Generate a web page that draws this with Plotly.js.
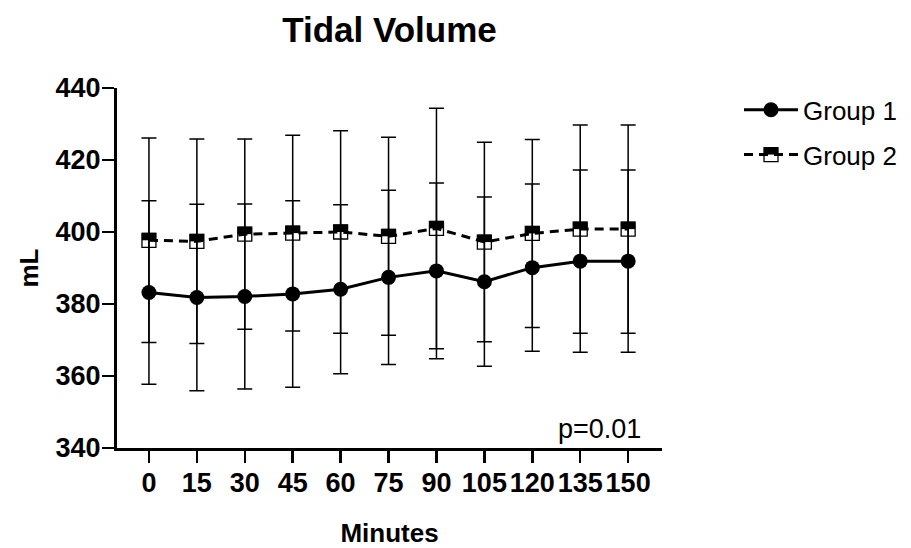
<!DOCTYPE html>
<html>
<head>
<meta charset="utf-8">
<script src="https://cdn.plot.ly/plotly-3.0.1.min.js"></script>
<style>html,body{margin:0;padding:0;background:#fff;}#chart{width:911px;height:548px;}</style>
</head>
<body>
<div id="chart"></div>
<script>
var minutes = [0, 15, 30, 45, 60, 75, 90, 105, 120, 135, 150];
var group1Mean = [383.2, 381.8, 382.1, 382.8, 384.1, 387.4, 389.2, 386.2, 390.1, 391.9, 391.9];
var group1SD   = [25.5, 25.9, 25.7, 25.9, 23.5, 24.2, 24.4, 23.5, 23.2, 25.3, 25.3];
var group2Mean = [397.7, 397.4, 399.4, 399.7, 400.0, 398.8, 401.0, 397.2, 399.6, 400.8, 400.8];
var group2SD   = [28.4, 28.4, 26.4, 27.2, 28.1, 27.5, 33.4, 27.7, 26.1, 28.9, 28.9];
var seriesNames = ['Group 1', 'Group 2'];
var pText = 'p=0.01';

var FONT = 'Arial, "Liberation Sans", sans-serif';

var trace1 = {
  x: minutes, y: group1Mean, name: seriesNames[0], type: 'scatter', mode: 'lines+markers',
  legendgroup: 'g1',
  line: {color: '#000', width: 3},
  marker: {symbol: 'circle', size: 15, color: '#000'},
  error_y: {type: 'data', array: group1SD, visible: true, color: '#000', thickness: 1.5, width: 7.5}
};
var trace2 = {
  x: minutes, y: group2Mean, name: seriesNames[1], type: 'scatter', mode: 'lines+markers',
  legendgroup: 'g2',
  line: {color: '#000', width: 3, dash: '9px,6px'},
  marker: {symbol: 'square-open', size: 14, color: '#000', line: {width: 1.3, color: '#000'}},
  error_y: {type: 'data', array: group2SD, visible: true, color: '#000', thickness: 1.5, width: 7.5}
};

// half-filled square tops for group 2 markers
var shapes = minutes.map(function (m, i) {
  return {
    type: 'rect', xref: 'x', yref: 'y', xsizemode: 'pixel', ysizemode: 'pixel',
    xanchor: m, yanchor: group2Mean[i], x0: -7, x1: 7, y0: 0, y1: 7.5,
    fillcolor: '#000', line: {width: 0}, layer: 'above'
  };
});

var layout = {
  width: 911, height: 548,
  margin: {l: 117, r: 249, t: 88, b: 100, autoexpand: false},
  paper_bgcolor: '#fff', plot_bgcolor: '#fff',
  font: {family: FONT, color: '#000'},
  title: {text: 'Tidal Volume', x: 0.5, xref: 'paper', y: 0.945, yref: 'container', yanchor: 'middle',
          font: {family: FONT, size: 35, weight: 'bold', color: '#000'}},
  xaxis: {
    range: [-10, 160.6], tickvals: minutes, ticktext: minutes.map(String), tickangle: 0,
    showline: true, linewidth: 3, linecolor: '#000', ticks: 'outside', ticklen: 12, tickwidth: 2.5, tickcolor: '#000',
    showgrid: false, zeroline: false, automargin: false, ticklabelstandoff: -3,
    tickfont: {family: FONT, size: 27, weight: 'bold'},
    title: {text: 'Minutes', standoff: 30, font: {family: FONT, size: 26, weight: 'bold'}}
  },
  yaxis: {
    range: [340, 440], dtick: 20, tick0: 340,
    showline: true, linewidth: 3, linecolor: '#000', ticks: 'outside', ticklen: 12, tickwidth: 2.5, tickcolor: '#000',
    showgrid: false, zeroline: false, automargin: false, ticklabelstandoff: -4,
    tickfont: {family: FONT, size: 27, weight: 'bold'},
    title: {text: 'mL', standoff: 10, font: {family: FONT, size: 26, weight: 'bold'}}
  },
  legend: {x: 1.1413, xanchor: 'left', y: 1.0045, yanchor: 'top', itemwidth: 54, tracegroupgap: 8,
           bgcolor: 'rgba(0,0,0,0)', font: {family: FONT, size: 26}},
  annotations: [{text: pText, xref: 'paper', yref: 'paper', x: 0.9653, y: 0.052, xanchor: 'right', yanchor: 'middle',
                 showarrow: false, font: {family: FONT, size: 27, color: '#000'}}],
  shapes: shapes,
  showlegend: true
};

Plotly.newPlot('chart', [trace1, trace2], layout, {displayModeBar: false, staticPlot: true}).then(function (gd) {
  // half-fill the group 2 legend symbol too, anchored where the legend placed it
  var pts = gd.querySelectorAll('.legend .traces');
  if (pts.length < 2) return;
  var sym = pts[1].querySelector('.legendpoints path.point') || pts[1].querySelector('.legendpoints path');
  if (!sym) return;
  var r = sym.getBoundingClientRect();
  var cx = (r.left + r.right) / 2, cy = (r.top + r.bottom) / 2;
  var fl = gd._fullLayout, sz = fl._size;
  var px = (cx - sz.l) / sz.w, py = 1 - (cy - sz.t) / sz.h;
  var s = gd.layout.shapes.slice();
  s.push({type: 'rect', xref: 'paper', yref: 'paper', xsizemode: 'pixel', ysizemode: 'pixel',
          xanchor: px, yanchor: py, x0: -7, x1: 7, y0: 0, y1: 7.5,
          fillcolor: '#000', line: {width: 0}, layer: 'above'});
  return Plotly.relayout(gd, {shapes: s});
});
</script>
</body>
</html>
